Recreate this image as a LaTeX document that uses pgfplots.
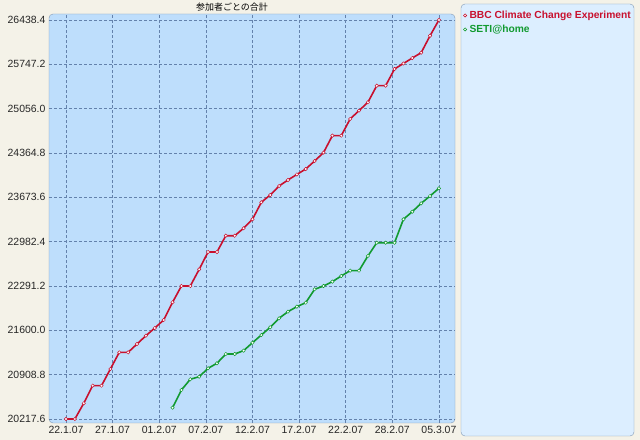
\documentclass[border=0pt]{standalone}
\usepackage{pgfplots}
\pgfplotsset{compat=1.18}
\usepackage{fontspec}
\setmainfont{Liberation Sans}
\newfontfamily\cjk{Noto Sans CJK JP}

\definecolor{bg}{HTML}{F4F2E8}
\definecolor{plotbg}{HTML}{BEDEFC}
\definecolor{legbg}{HTML}{DCEEFF}
\definecolor{frame}{HTML}{7F98B4}
\definecolor{gridc}{HTML}{6482AC}
\definecolor{bbc}{HTML}{C8102E}
\definecolor{seti}{HTML}{119A30}

\begin{document}
\begin{tikzpicture}
\path[use as bounding box] (0bp,0bp) rectangle (640bp,440bp);
\fill[bg] (0bp,0bp) rectangle (640bp,440bp);
\filldraw[fill=plotbg, draw=frame, rounded corners=4bp] (49bp,17bp) rectangle (455bp,426bp);
\filldraw[fill=legbg, draw=frame, rounded corners=4bp] (461bp,4bp) rectangle (634bp,436bp);
\node[font=\cjk\fontsize{9}{10}\selectfont] at (232bp,433bp) {参加者ごとの合計};

\begin{axis}[
    at={(49bp,17bp)}, anchor=south west,
    scale only axis, width=406bp, height=409bp,
    xmin=-1.914, xmax=43.81,
    ymin=20155.2, ymax=26531.6,
    scaled y ticks=false, scaled x ticks=false,
    axis line style={draw=none},
    major tick length=0pt,
    xtick={0,5.25,10.5,15.75,21,26.25,31.5,36.75,42},
    xticklabels={22.1.07,27.1.07,01.2.07,07.2.07,12.2.07,17.2.07,22.2.07,28.2.07,05.3.07},
    ytick={20217.6,20908.8,21600,22291.2,22982.4,23673.6,24364.8,25056,25747.2,26438.4},
    yticklabels={20217.6,20908.8,21600.0,22291.2,22982.4,23673.6,24364.8,25056.0,25747.2,26438.4},
    grid=major,
    grid style={gridc, dash pattern=on 3bp off 2bp, line width=0.6bp},
    tick label style={font=\fontsize{10.5}{12}\selectfont, color=black!85},
    legend style={at={(1,1)}, anchor=north west, xshift=8bp, yshift=5.75bp,
        draw=none, fill=none, inner sep=0pt, row sep=0pt,
        font=\bfseries\fontsize{10.3}{12}\selectfont,
        nodes={text height=8bp, text depth=2.5bp, inner ysep=1.75bp, inner xsep=2.5bp}},
    legend cell align=left,
    legend image code/.code={\draw[line width=0.6bp, fill=white] (0bp,0bp) circle (1.6bp);},
]
\addplot[color=bbc, line width=1.6bp, mark=*, mark size=1.7bp,
    mark options={fill=white, line width=0.5bp}] table {
x y
0 20217.6
1 20217.6
2 20462
3 20737
4 20737
5 20997
6 21257
7 21257
8 21387
9 21516
10 21636
11 21761
12 22037
13 22291
14 22291
15 22551
16 22821
17 22821
18 23075
19 23075
20 23191
21 23331
22 23596
23 23710
24 23850
25 23944
26 24030
27 24115
28 24240
29 24370
30 24635
31 24635
32 24895
33 25025
34 25155
35 25414
36 25414
37 25674
38 25760
39 25845
40 25928
41 26193
42 26438.4
};
\addlegendentry{\textcolor{bbc}{BBC Climate Change Experiment}}
\addplot[color=seti, line width=1.6bp, mark=*, mark size=1.7bp,
    mark options={fill=white, line width=0.5bp}] table {
x y
12 20394
13 20670
14 20837
15 20877
16 21008
17 21086
18 21231
19 21231
20 21283
21 21407
22 21527
23 21647
24 21788
25 21891
26 21969
27 22031
28 22240
29 22291
30 22359
31 22447
32 22530
33 22530
34 22759
35 22966
36 22966
37 22966
38 23331
39 23450
40 23580
41 23694
42 23814
};
\addlegendentry{\textcolor{seti}{SETI@home}}
\end{axis}
\end{tikzpicture}
\end{document}
